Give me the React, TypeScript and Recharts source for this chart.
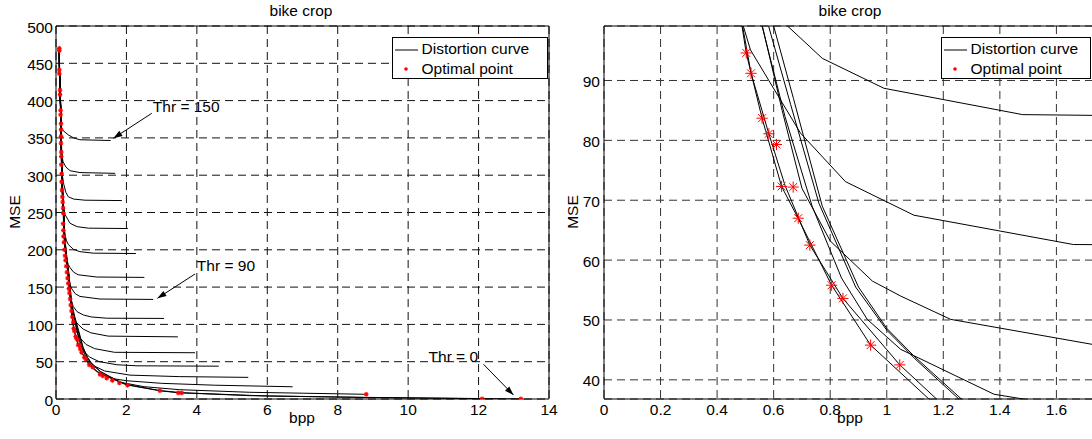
import React from 'react';
import {
  ComposedChart,
  Line,
  Scatter,
  XAxis,
  YAxis,
  CartesianGrid,
  ReferenceLine,
  ReferenceDot,
} from 'recharts';

// ---------- data (bpp, MSE) ----------
const curveThr150 = [[0.092,470],[0.096,440],[0.112,413],[0.125,390],[0.132,372],[0.15,365],[0.2,360],[0.35,354],[0.5,350],[0.68,347.5],[1.55,346.5]];
const curveThr140 = [[0.092,470],[0.097,440],[0.113,413],[0.131,387],[0.141,365],[0.148,345],[0.16,330],[0.2,318],[0.28,311],[0.4,306],[0.68,303.5],[1.68,302.5]];
const curveThr130 = [[0.092,470],[0.097,440],[0.113,413],[0.132,387],[0.142,365],[0.148,340],[0.155,320],[0.17,303],[0.22,288],[0.28,277],[0.35,271],[0.5,268],[0.82,266.5],[1.87,266]];
const curveThr120 = [[0.093,470],[0.098,440],[0.114,413],[0.133,387],[0.143,365],[0.149,340],[0.157,320],[0.166,300],[0.178,280],[0.2,262],[0.26,247],[0.4,235.5],[0.6,231],[0.92,229],[2.04,228.5]];
const curveThr110 = [[0.093,470],[0.098,440],[0.114,413],[0.133,387],[0.143,365],[0.15,340],[0.158,320],[0.167,300],[0.178,280],[0.195,264],[0.212,249],[0.228,232],[0.26,219],[0.3,212],[0.35,207],[0.5,200.5],[0.68,197.5],[1.06,195.5],[2.27,195]];
const curveThr100 = [[0.093,470],[0.099,440],[0.115,413],[0.134,387],[0.144,365],[0.15,340],[0.158,320],[0.168,300],[0.18,280],[0.197,264],[0.213,249],[0.228,224],[0.242,213],[0.265,200],[0.3,188],[0.35,180],[0.4,176],[0.5,170],[0.63,166.5],[1.16,163.5],[2.51,163]];
const curveThr90 = [[0.093,470],[0.099,440],[0.115,413],[0.134,387],[0.145,365],[0.151,340],[0.159,320],[0.169,300],[0.181,280],[0.198,264],[0.214,249],[0.229,224],[0.243,213],[0.267,200],[0.297,186],[0.33,173],[0.36,162],[0.4,153],[0.45,147.5],[0.55,141],[0.68,137.5],[1.25,134],[2.76,133.5]];
const curveThr80 = [[0.094,470],[0.1,440],[0.116,413],[0.135,387],[0.145,365],[0.152,340],[0.16,320],[0.17,300],[0.182,280],[0.2,264],[0.216,249],[0.231,224],[0.245,213],[0.27,200],[0.3,186],[0.335,173],[0.365,160],[0.395,145],[0.43,133],[0.49,124],[0.6,117],[0.78,112.6],[1.0,110],[1.44,108.3],[3.07,108]];
const curveThr70 = [[0.094,470],[0.1,440],[0.117,413],[0.136,387],[0.146,365],[0.153,340],[0.161,320],[0.171,300],[0.183,280],[0.201,264],[0.218,249],[0.233,224],[0.247,213],[0.272,200],[0.303,186],[0.338,173],[0.368,160],[0.398,142],[0.43,127],[0.47,114],[0.52,106],[0.64,99.5],[0.772,93.7],[0.99,88.7],[1.48,84.3],[3.46,83.3]];
const curveThr60 = [[0.094,470],[0.1,440],[0.117,413],[0.136,387],[0.146,365],[0.153,340],[0.162,320],[0.172,300],[0.184,280],[0.202,264],[0.219,249],[0.234,224],[0.248,213],[0.274,200],[0.305,186],[0.34,173],[0.37,160],[0.4,142],[0.43,126],[0.46,110],[0.49,99.5],[0.518,95.1],[0.695,81.2],[0.854,73.1],[1.096,67.5],[1.66,62.6],[3.95,62]];
const curveThr50 = [[0.095,470],[0.101,440],[0.118,413],[0.137,387],[0.147,365],[0.154,340],[0.163,320],[0.173,300],[0.186,280],[0.204,264],[0.221,249],[0.236,224],[0.25,213],[0.277,200],[0.308,186],[0.343,173],[0.373,160],[0.405,142],[0.44,126],[0.5,111],[0.56,99.1],[0.63,85],[0.7,72],[0.8,63.2],[0.949,56.5],[1.049,54],[1.226,50.1],[1.73,45.9],[2.3,44.5],[4.62,44]];
const curveThr40 = [[0.095,470],[0.101,440],[0.118,413],[0.137,387],[0.148,365],[0.155,340],[0.164,320],[0.174,300],[0.187,280],[0.205,264],[0.222,249],[0.238,224],[0.252,213],[0.279,200],[0.31,186],[0.346,173],[0.376,160],[0.408,142],[0.445,126],[0.5,111],[0.559,99.1],[0.64,84],[0.736,69],[0.84,57],[0.931,50.1],[1.049,45.1],[1.379,37.6],[2.1,32],[3.5,30],[5.46,29]];
const curveThr30 = [[0.092,470],[0.096,440],[0.112,413],[0.13,387],[0.14,365],[0.145,340],[0.152,320],[0.162,300],[0.172,280],[0.19,264],[0.206,249],[0.221,224],[0.236,213],[0.26,200],[0.29,186],[0.325,173],[0.355,160],[0.385,142],[0.42,126],[0.45,114],[0.475,103],[0.503,94.6],[0.559,83.7],[0.628,72.3],[0.687,66.95],[0.805,55.8],[0.943,45.8],[1.149,36.8],[1.4,31],[1.65,27],[2.0,24.5],[3.0,21],[4.5,18.5],[6.72,16.4]];
const curveThr20 = [[0.093,470],[0.097,440],[0.113,413],[0.131,387],[0.141,365],[0.146,340],[0.153,320],[0.163,300],[0.174,280],[0.192,264],[0.208,249],[0.224,224],[0.239,213],[0.263,200],[0.294,186],[0.33,173],[0.36,160],[0.39,142],[0.425,126],[0.46,110],[0.49,99.1],[0.52,91.2],[0.583,81.1],[0.64,72.5],[0.728,62.5],[0.845,53.6],[1.046,42.5],[1.176,36.8],[1.45,30],[1.82,22.5],[2.5,16.5],[3.5,12.5],[5.5,9],[8.81,6.3]];
const curveThr10 = [[0.095,470],[0.102,440],[0.119,413],[0.138,387],[0.149,365],[0.156,340],[0.165,320],[0.176,300],[0.189,280],[0.207,264],[0.225,249],[0.24,224],[0.255,213],[0.282,200],[0.313,186],[0.35,173],[0.38,160],[0.412,142],[0.45,126],[0.52,110],[0.582,99.1],[0.66,86],[0.76,69.5],[0.89,55.5],[1.0,48.3],[1.1,43.5],[1.255,36.8],[1.5,30.5],[1.82,22.5],[2.0,19],[2.95,11],[3.47,8.4],[5.5,4.5],[8.8,2.2],[12.1,0.4]];
const curveThr0 = [[0.096,470],[0.103,440],[0.12,413],[0.139,387],[0.15,365],[0.157,340],[0.166,320],[0.177,300],[0.19,280],[0.209,264],[0.227,249],[0.242,224],[0.257,213],[0.285,200],[0.316,186],[0.353,173],[0.384,160],[0.416,142],[0.455,126],[0.535,110],[0.6,99.1],[0.67,87],[0.772,69],[0.9,55.5],[1.0,48.6],[1.1,43.8],[1.264,36.8],[1.5,30.8],[1.82,23],[2.0,19.5],[2.95,11.3],[3.57,8.4],[6.0,4.0],[8.8,2.0],[12.1,0.6],[13.2,0]];

const optimalPoints = [
  [0.094,470],[0.094,467],[0.094,441],[0.094,436],[0.114,414],[0.114,408],[0.13,387],[0.13,381],
  [0.142,369],[0.142,361],[0.142,352],[0.142,343],[0.15,331],[0.15,325],[0.15,314],[0.16,302],
  [0.16,291],[0.17,280],[0.18,271],[0.19,264],[0.2,256],[0.208,249],[0.2,235],[0.21,226],
  [0.215,218],[0.227,210],[0.24,200],[0.256,192],[0.27,186],[0.29,178],[0.31,170],[0.33,162],
  [0.35,155],[0.365,148],[0.38,142],[0.4,134],[0.417,126],[0.44,118],[0.464,110],[0.49,103],
  [0.503,94.6],[0.52,91.2],[0.559,83.7],[0.583,81.1],[0.61,79.3],[0.628,72.3],[0.669,72.2],
  [0.687,67],[0.728,62.5],[0.805,55.8],[0.845,53.6],[0.943,45.8],[1.046,42.5],
  [1.25,33],[1.33,31],[1.44,28],[1.6,25],[1.8,21.5],[2.03,18.4],[2.95,11.2],[3.47,8.2],
  [3.57,8.2],[8.81,6.3],[12.1,0.3],[13.2,0.2],
];

const thresholds = [150,140,130,120,110,100,90,80,70,60,50,40,30,20,10,0];
const curves = [curveThr150,curveThr140,curveThr130,curveThr120,curveThr110,curveThr100,curveThr90,curveThr80,curveThr70,curveThr60,curveThr50,curveThr40,curveThr30,curveThr20,curveThr10,curveThr0];

const xTicksLeft = [0,2,4,6,8,10,12,14];
const yTicksLeft = [0,50,100,150,200,250,300,350,400,450,500];
const xTicksRight = [0,0.2,0.4,0.6,0.8,1,1.2,1.4,1.6];
const yTicksRight = [40,50,60,70,80,90];
const xDomainLeft = [0,14];
const yDomainLeft = [0,500];
const xDomainRight = [0,1.74];
const yDomainRight = [36.8,99.1];

const annotLabels = ['Thr = 150','Thr = 90','Thr = 0'];
const annotTextPos = [[2.75,385],[4.0,172],[10.58,49]];
const annotArrowFrom = [[2.72,383],[3.95,167.6],[12.14,46.5]];
const annotArrowTo = [[1.63,349.5],[2.88,135],[12.99,5.4]];

const FONT = '"Liberation Sans", Arial, Helvetica, sans-serif';
const FS = 15.5;

const toObj = (arr: number[][]) => arr.map(([x, y]) => ({ x, y }));
const curveData = curves.map(toObj);
const optimalData = toObj(optimalPoints);

const makeAsterisk = (r: number, sw: number) => (props: any) => {
  const { cx, cy } = props;
  if (cx == null || cy == null || isNaN(cx) || isNaN(cy)) return <g />;
  const d = r * 0.7071;
  return (
    <g stroke="#ff0000" strokeWidth={sw}>
      <line x1={cx - r} y1={cy} x2={cx + r} y2={cy} />
      <line x1={cx} y1={cy - r} x2={cx} y2={cy + r} />
      <line x1={cx - d} y1={cy - d} x2={cx + d} y2={cy + d} />
      <line x1={cx - d} y1={cy + d} x2={cx + d} y2={cy - d} />
    </g>
  );
};
const smallStar = makeAsterisk(2.3, 1.2);
const bigStar = makeAsterisk(5.6, 1);

const ArrowShape = (props: any) => {
  const { x1, y1, x2, y2 } = props;
  const ang = Math.atan2(y2 - y1, x2 - x1);
  const L = 9, Wd = 3;
  const bx = x2 - L * Math.cos(ang), by = y2 - L * Math.sin(ang);
  const px = -Math.sin(ang) * Wd, py = Math.cos(ang) * Wd;
  return (
    <g>
      <line x1={x1} y1={y1} x2={x2} y2={y2} stroke="#000" strokeWidth={1} />
      <polygon points={`${x2},${y2} ${bx + px},${by + py} ${bx - px},${by - py}`} fill="#000" />
    </g>
  );
};

const makeTextShape = (label: string) => (props: any) => (
  <text x={props.cx} y={props.cy} fontSize={FS} fontFamily={FONT} fill="#000">{label}</text>
);

const tickStyle = { fontSize: FS, fontFamily: FONT, fill: '#000' };

function Panel(props: { right?: boolean }) {
  const right = !!props.right;
  const xDomain = right ? xDomainRight : xDomainLeft;
  const yDomain = right ? yDomainRight : yDomainLeft;
  return (
    <ComposedChart
      width={560}
      height={439}
      margin={{ top: 26, right: right ? 12 : 11, bottom: 0, left: 0 }}
    >
      <CartesianGrid stroke={right ? '#333' : '#111'} strokeDasharray="8 5" />
      <XAxis
        type="number"
        dataKey="x"
        domain={xDomain}
        ticks={right ? xTicksRight : xTicksLeft}
        allowDataOverflow
        height={40}
        tickSize={0}
        tickMargin={5}
        tick={tickStyle}
        axisLine={{ stroke: '#000' }}
        interval={0}
      />
      <YAxis
        type="number"
        dataKey="y"
        domain={yDomain}
        ticks={right ? yTicksRight : yTicksLeft}
        allowDataOverflow
        width={56}
        tickSize={0}
        tickMargin={right ? 4 : 3}
        tick={{ ...tickStyle, dy: 1 }}
        axisLine={{ stroke: '#000' }}
        interval={0}
      />
      <ReferenceLine y={yDomain[1]} stroke="#000" />
      <ReferenceLine x={xDomain[1]} stroke="#000" />
      {curveData.map((d, i) => (
        <Line
          key={'thr' + thresholds[i]}
          data={d}
          dataKey="y"
          type="linear"
          stroke="#000"
          strokeWidth={1}
          dot={false}
          activeDot={false}
          isAnimationActive={false}
        />
      ))}
      <Scatter
        data={optimalData}
        dataKey="y"
        fill="#ff0000"
        shape={right ? bigStar : smallStar}
        isAnimationActive={false}
      />
      {!right &&
        annotLabels.map((lab, i) => (
          <ReferenceLine
            key={'arr' + i}
            segment={[
              { x: annotArrowFrom[i][0], y: annotArrowFrom[i][1] },
              { x: annotArrowTo[i][0], y: annotArrowTo[i][1] },
            ]}
            stroke="#000"
            shape={ArrowShape}
          />
        ))}
      {!right &&
        annotLabels.map((lab, i) => (
          <ReferenceDot
            key={'lab' + i}
            x={annotTextPos[i][0]}
            y={annotTextPos[i][1]}
            r={0}
            shape={makeTextShape(lab)}
          />
        ))}
    </ComposedChart>
  );
}

function LegendBox(props: { x: number; y: number; w: number; h: number }) {
  const { x, y, w, h } = props;
  return (
    <g>
      <rect x={x} y={y} width={w} height={h} fill="#fff" stroke="#000" strokeWidth={1} />
      <line x1={x + 2.5} y1={y + 12.5} x2={x + 25.5} y2={y + 12.5} stroke="#000" strokeWidth={1} />
      <text x={x + 29} y={y + 16.5} fontSize={FS} fontFamily={FONT} fill="#000">Distortion curve</text>
      <circle cx={x + 13.5} cy={y + 31.5} r={1.8} fill="#ff0000" />
      <text x={x + 29} y={y + 36.5} fontSize={FS} fontFamily={FONT} fill="#000">Optimal point</text>
    </g>
  );
}

export default function App() {
  return (
    <div
      style={{
        position: 'absolute',
        left: 0,
        top: 0,
        width: 1092,
        height: 439,
        overflow: 'hidden',
        background: '#fff',
      }}
    >
      <div style={{ position: 'absolute', left: 0, top: 0 }}>
        <Panel />
      </div>
      <div style={{ position: 'absolute', left: 548, top: 0 }}>
        <Panel right />
      </div>
      <svg
        width={1092}
        height={439}
        style={{ position: 'absolute', left: 0, top: 0, pointerEvents: 'none' }}
      >
        <text x={301} y={16} textAnchor="middle" fontSize={FS} fontFamily={FONT} fill="#000">bike crop</text>
        <text x={850} y={16} textAnchor="middle" fontSize={FS} fontFamily={FONT} fill="#000">bike crop</text>
        <text x={302} y={423} textAnchor="middle" fontSize={FS} fontFamily={FONT} fill="#000">bpp</text>
        <text x={850} y={423} textAnchor="middle" fontSize={FS} fontFamily={FONT} fill="#000">bpp</text>
        <text transform="translate(20,212) rotate(-90)" textAnchor="middle" fontSize={FS} fontFamily={FONT} fill="#000">MSE</text>
        <text transform="translate(578,212) rotate(-90)" textAnchor="middle" fontSize={FS} fontFamily={FONT} fill="#000">MSE</text>
        <LegendBox x={392.5} y={37.5} w={155} h={41} />
        <LegendBox x={941.5} y={37.5} w={149} h={41} />
      </svg>
    </div>
  );
}
